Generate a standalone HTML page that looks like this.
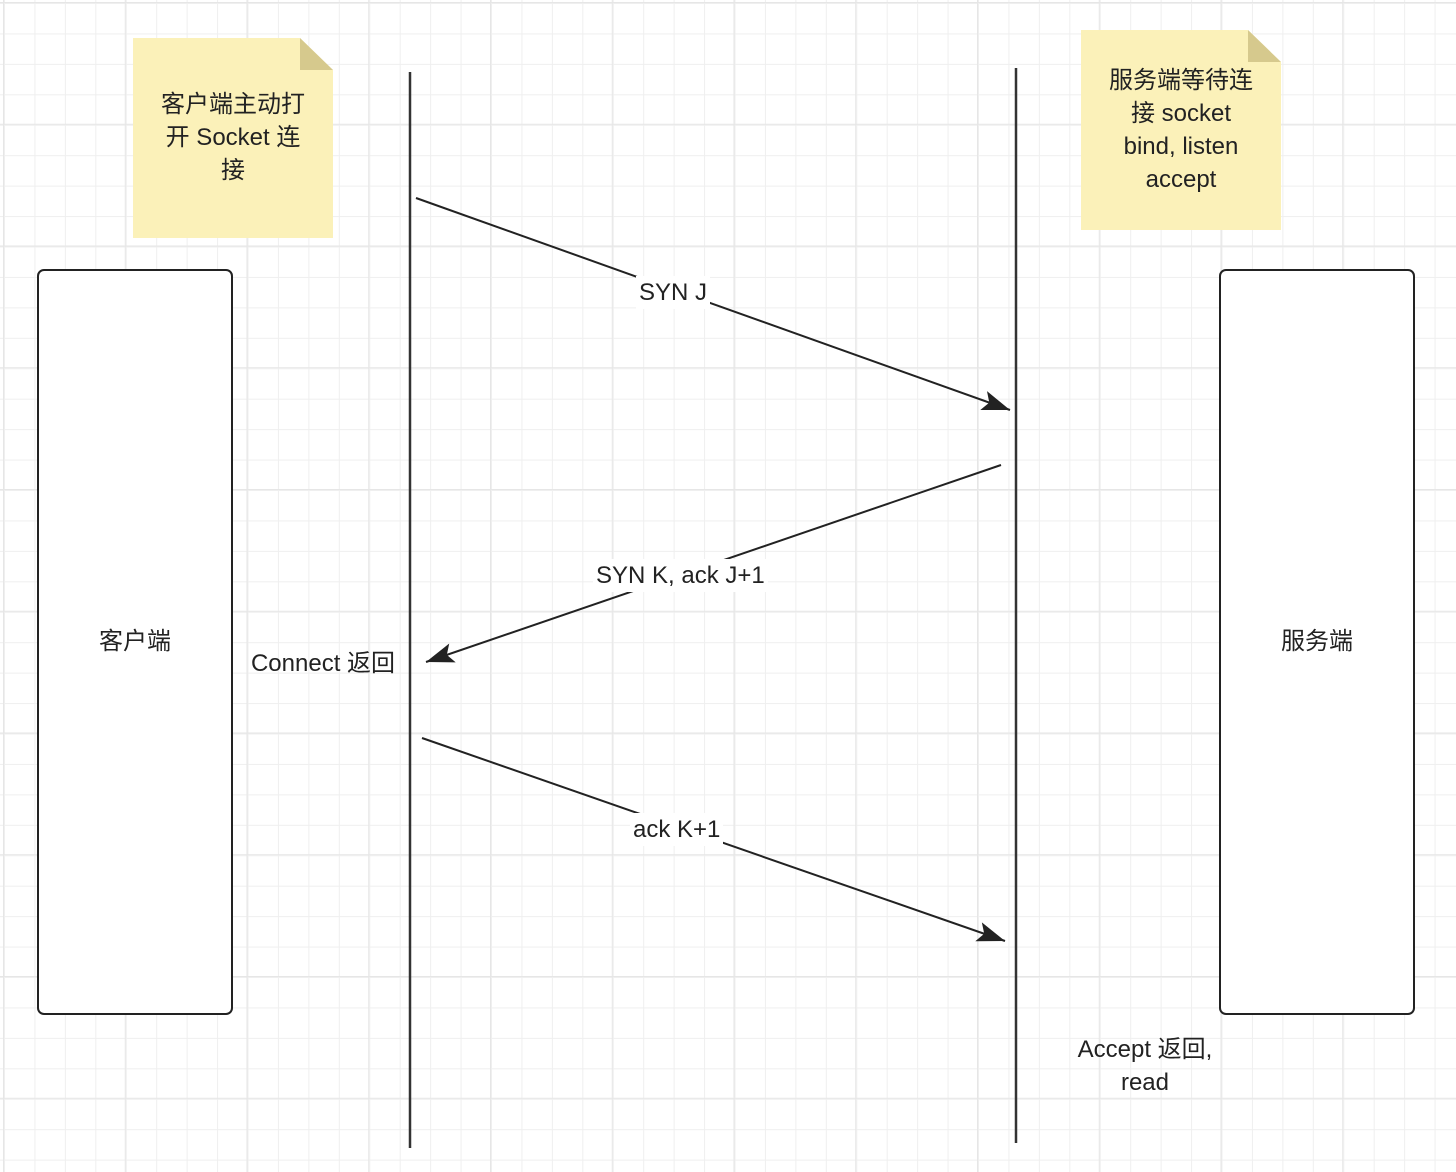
<!DOCTYPE html>
<html><head><meta charset="utf-8"><style>
html,body{margin:0;padding:0;}
body{width:1456px;height:1172px;position:relative;overflow:hidden;background:#fff;
background-image:
linear-gradient(to right,#e6e6e6 1px,transparent 1px),
linear-gradient(to bottom,#e6e6e6 1px,transparent 1px),
linear-gradient(to right,#efefef 1px,transparent 1px),
linear-gradient(to bottom,#efefef 1px,transparent 1px);
background-size:121.76px 121.76px,121.76px 121.76px,30.44px 30.44px,30.44px 30.44px;
background-position:3px 2px,3px 2px,4px 3px,4px 3px;
font-family:"Liberation Sans","Noto Sans CJK SC",sans-serif;color:#222;}
.t{position:absolute;text-align:center;font-size:24px;line-height:33px;}
</style></head><body>
<svg width="1456" height="1172" style="position:absolute;left:0;top:0">
<defs><marker id="a" markerWidth="30" markerHeight="24" refX="28" refY="12" orient="auto" markerUnits="userSpaceOnUse"><path d="M0,2 L28,12 L0,22 L6,12z" fill="#222"/></marker></defs>
<polygon points="133,38 300,38 333,70 333,238 133,238" fill="#fbf1b9"/>
<polygon points="300,38 333,70 300,70" fill="#d6c98d"/>
<polygon points="1081,30 1248,30 1281,62 1281,230 1081,230" fill="#fbf1b9"/>
<polygon points="1248,30 1281,62 1248,62" fill="#d6c98d"/>
<rect x="38" y="270" width="194" height="744" rx="6" fill="#fff" stroke="#222" stroke-width="2"/>
<rect x="1220" y="270" width="194" height="744" rx="6" fill="#fff" stroke="#222" stroke-width="2"/>
<line x1="410" y1="72" x2="410" y2="1148" stroke="#333" stroke-width="2.5"/>
<line x1="1016" y1="68" x2="1016" y2="1143" stroke="#333" stroke-width="2.5"/>
<line x1="416" y1="198" x2="1010" y2="410" stroke="#222" stroke-width="2" marker-end="url(#a)"/>
<line x1="1001" y1="465" x2="426" y2="662" stroke="#222" stroke-width="2" marker-end="url(#a)"/>
<line x1="422" y1="738" x2="1005" y2="941" stroke="#222" stroke-width="2" marker-end="url(#a)"/>
</svg>
<div class="t" style="left:133px;top:88px;width:200px">客户端主动打<br>开 Socket 连<br>接</div>
<div class="t" style="left:1081px;top:64px;width:200px">服务端等待连<br>接 socket<br>bind, listen<br>accept</div>
<div class="t" style="left:636px;top:276px;background:#fff;padding:0 3px">SYN J</div>
<div class="t" style="left:593px;top:559px;background:#fff;padding:0 3px">SYN K, ack J+1</div>
<div class="t" style="left:630px;top:813px;background:#fff;padding:0 3px">ack K+1</div>
<div class="t" style="left:38px;top:625px;width:194px">客户端</div>
<div class="t" style="left:1220px;top:625px;width:194px">服务端</div>
<div class="t" style="left:236px;top:647px;width:174px">Connect 返回</div>
<div class="t" style="left:1055px;top:1033px;width:180px">Accept 返回,<br>read</div>
</body></html>
